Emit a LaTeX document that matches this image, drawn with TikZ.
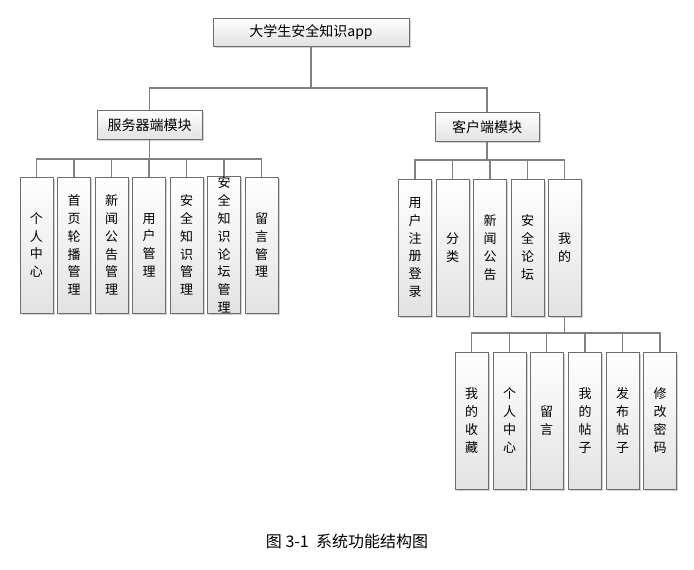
\documentclass[tikz,border=0pt]{standalone}
\usepackage{fontspec}
\setmainfont{Noto Sans CJK SC}
\usetikzlibrary{shadows}
\definecolor{bordercol}{HTML}{6E6E6E}
\definecolor{linecol}{HTML}{808080}
\definecolor{fillbot}{HTML}{E2E2E2}
\tikzset{
  boxbase/.style={draw=bordercol, line width=0.9pt, top color=white, bottom color=fillbot,
    inner sep=0pt, drop shadow={shadow xshift=1.5pt, shadow yshift=-1.5pt, opacity=0.35, fill=gray}},
  hbox/.style={boxbase, font=\fontsize{14}{16}\selectfont},
  vbox/.style={boxbase, minimum width=33pt, minimum height=136pt, align=center,
    font=\fontsize{13}{17.8}\selectfont},
  conn/.style={draw=linecol, line width=1.2pt},
}
\begin{document}
\begin{tikzpicture}[x=1pt,y=-1pt]
\useasboundingbox[fill=white] (0,0) rectangle (694,570);

\node[hbox, minimum width=196pt, minimum height=28pt] (top) at (311,32) {大学生安全知识app};
\node[hbox, minimum width=105pt, minimum height=29pt] (srv) at (149.5,125) {服务器端模块};
\node[hbox, minimum width=104pt, minimum height=29pt] (cli) at (487,127) {客户端模块};

% server children
\node[vbox] (s1) at (36.5,245) {个\\人\\中\\心};
\node[vbox] (s2) at (74,245) {首\\页\\轮\\播\\管\\理};
\node[vbox] (s3) at (111.5,245) {新\\闻\\公\\告\\管\\理};
\node[vbox] (s4) at (149,245) {用\\户\\管\\理};
\node[vbox] (s5) at (186.5,245) {安\\全\\知\\识\\管\\理};
\node[vbox] (s6) at (224,245) {安\\全\\知\\识\\论\\坛\\管\\理};
\node[vbox] (s7) at (261.5,245) {留\\言\\管\\理};

% client children
\node[vbox, minimum height=137pt] (c1) at (415,247.5) {用\\户\\注\\册\\登\\录};
\node[vbox, minimum height=137pt] (c2) at (452.5,247.5) {分\\类};
\node[vbox, minimum height=137pt] (c3) at (490,247.5) {新\\闻\\公\\告};
\node[vbox, minimum height=137pt] (c4) at (527.5,247.5) {安\\全\\论\\坛};
\node[vbox, minimum height=137pt] (c5) at (564.5,247.5) {我\\的};

% my children
\node[vbox, minimum height=137pt] (m1) at (471.5,420.5) {我\\的\\收\\藏};
\node[vbox, minimum height=137pt] (m2) at (509.5,420.5) {个\\人\\中\\心};
\node[vbox, minimum height=137pt] (m3) at (546.5,420.5) {留\\言};
\node[vbox, minimum height=137pt] (m4) at (585,420.5) {我\\的\\帖\\子};
\node[vbox, minimum height=137pt] (m5) at (622.5,420.5) {发\\布\\帖\\子};
\node[vbox, minimum height=137pt] (m6) at (660,420.5) {修\\改\\密\\码};

% connectors
\coordinate (tbus) at (311,88);
\draw[conn] (top.south) -- (tbus) -| (srv.north);
\draw[conn] (tbus) -| (cli.north);

\coordinate (sbus) at (149.5,159);
\draw[conn] (srv.south) -- (sbus);
\foreach \i in {1,...,7} \draw[conn] (sbus) -| (s\i.north);

\coordinate (cbus) at (487,160);
\draw[conn] (cli.south) -- (cbus);
\foreach \i in {1,...,5} \draw[conn] (cbus) -| (c\i.north);

\coordinate (mbus) at (564.5,333);
\draw[conn] (c5.south) -- (mbus);
\foreach \i in {1,...,6} \draw[conn] (mbus) -| (m\i.north);

\node[font=\fontsize{16}{18}\selectfont] (cap) at (347,541) {图 3-1\ \ 系统功能结构图};
\end{tikzpicture}
\end{document}
